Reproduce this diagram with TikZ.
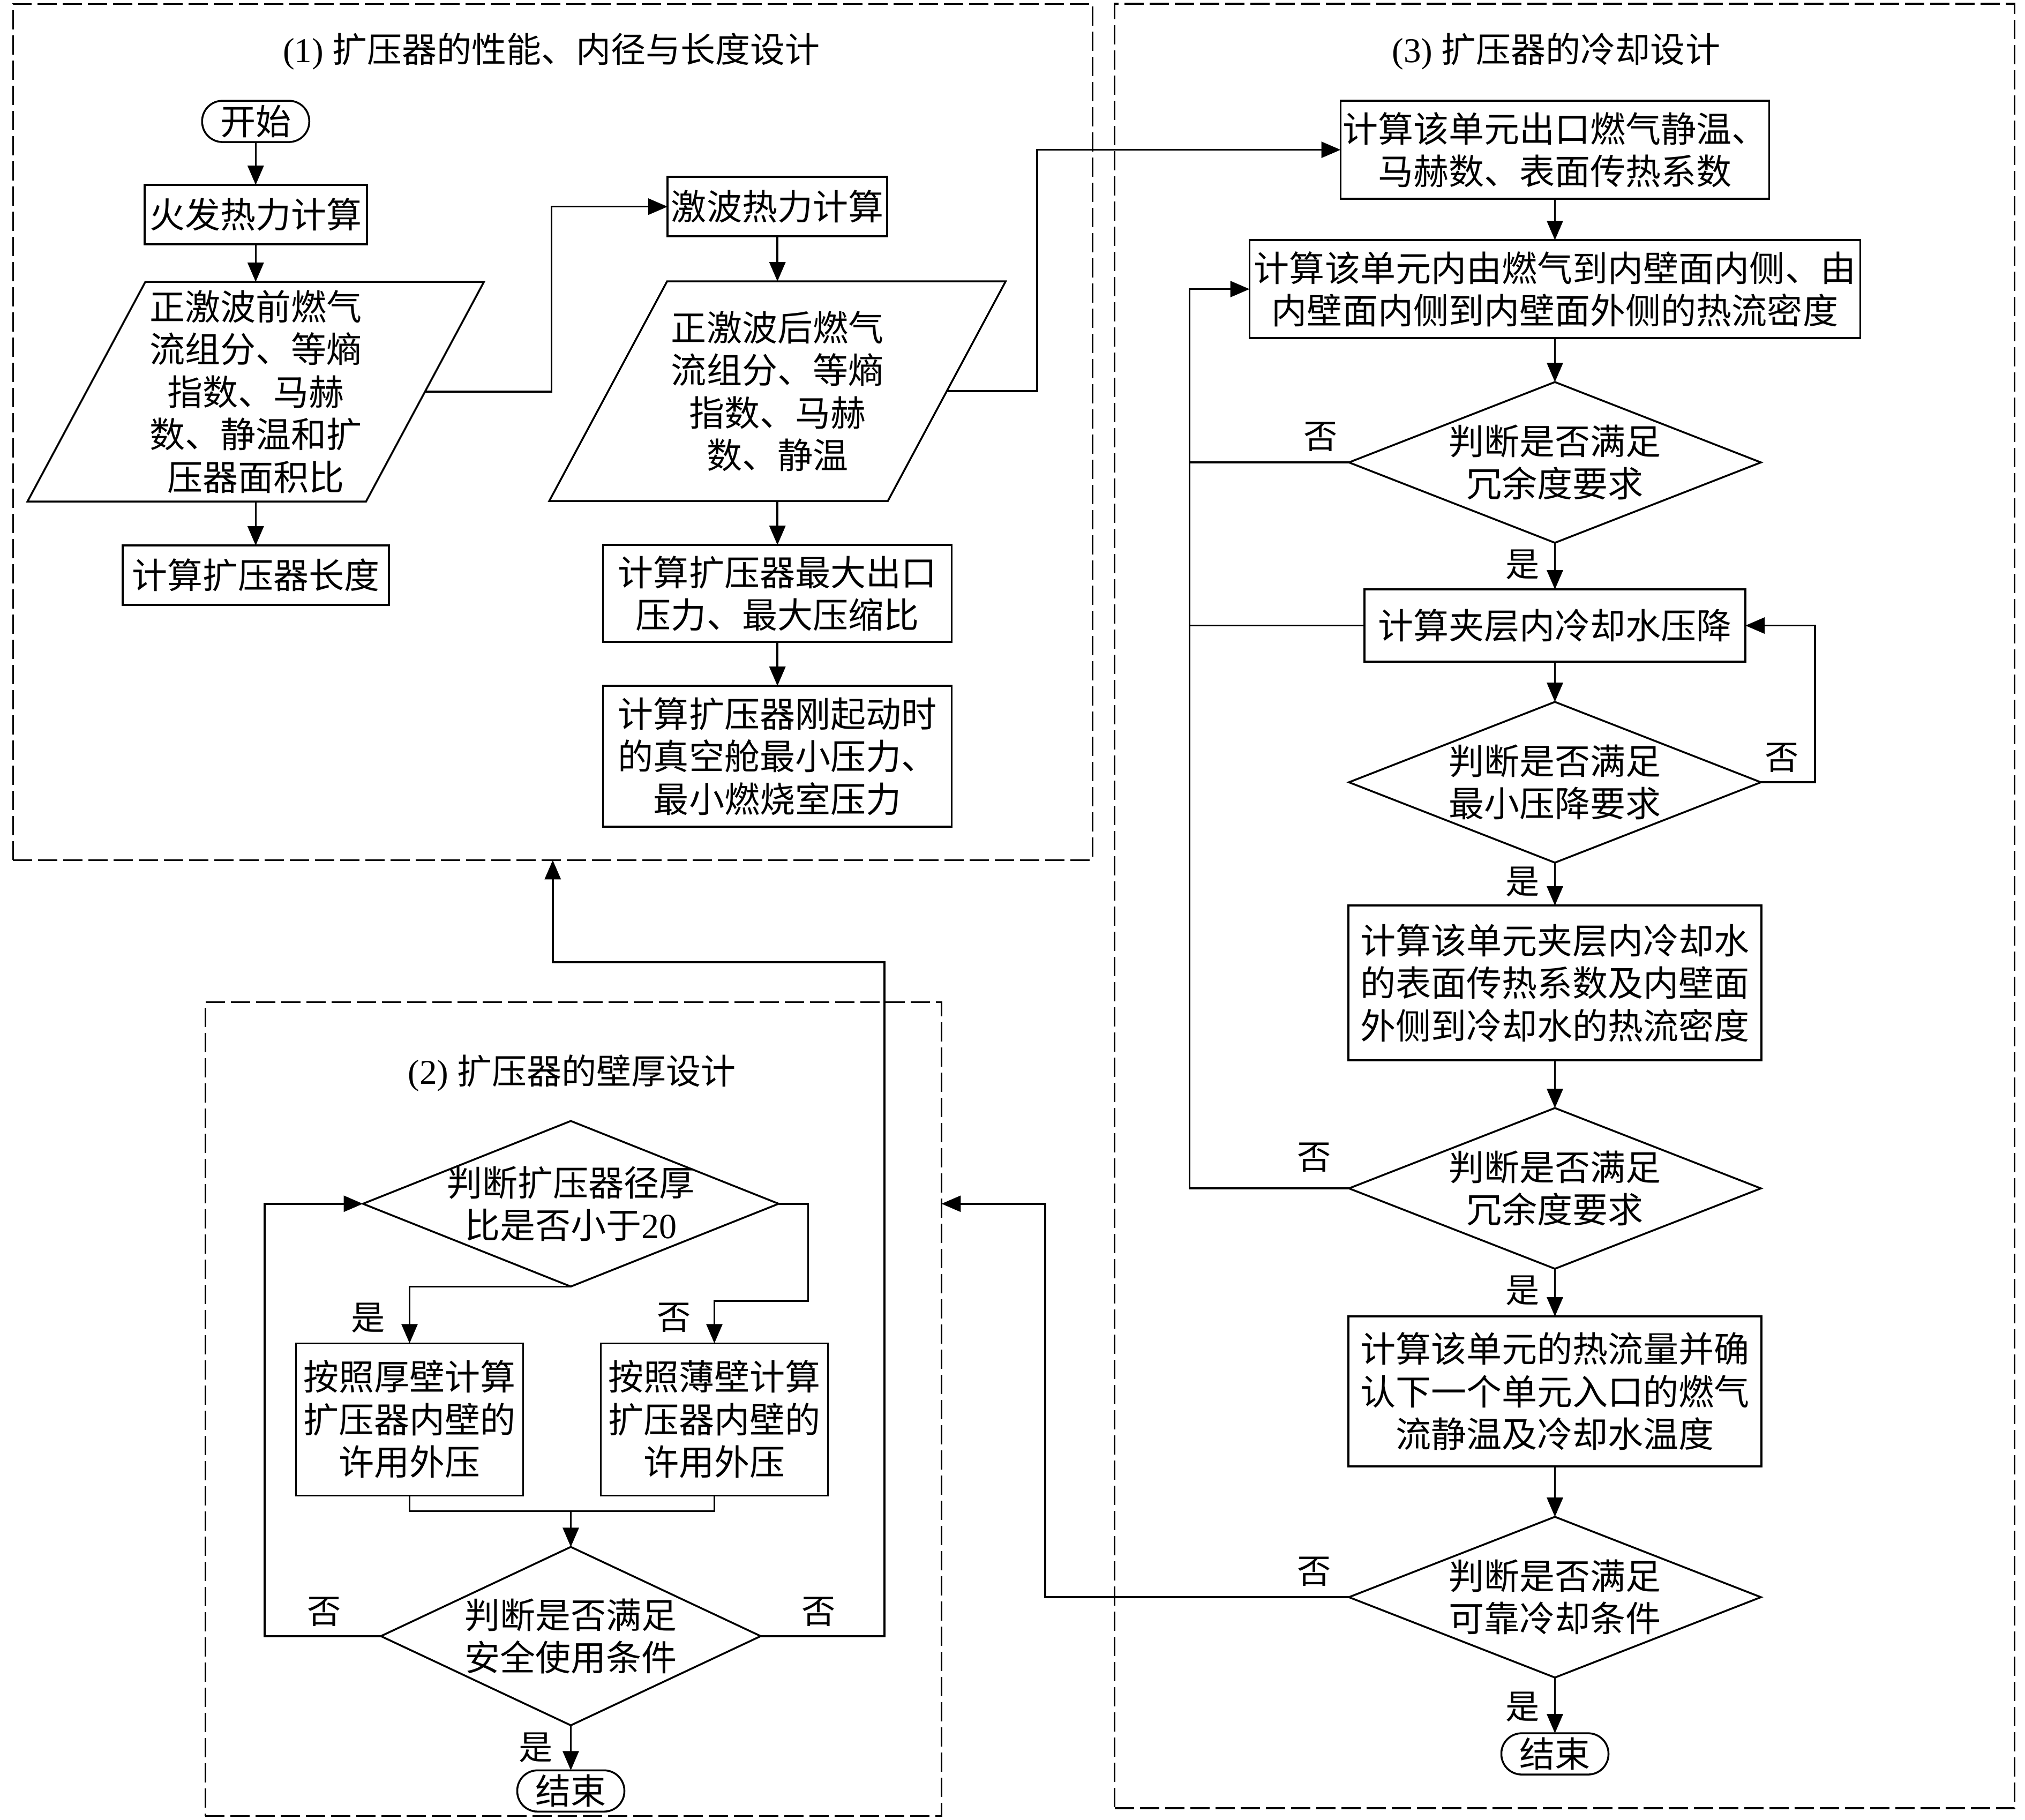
\documentclass[tikz,border=0pt]{standalone}
\usepackage{fontspec}
\setmainfont{Liberation Serif}
\newfontfamily\cjkfont{Noto Sans CJK SC}
\usetikzlibrary{shapes.geometric, arrows.meta, positioning}

\begin{document}
\begin{tikzpicture}[
    font=\cjkfont\fontsize{18.8}{22.6}\selectfont,
    line/.style={line width=1pt},
    arrow/.style={line, -{Triangle[length=0.36cm, width=0.30cm]}},
    box/.style={rectangle, draw, line width=1pt, inner sep=1pt, outer sep=0pt, align=center},
    startstop/.style={box, rounded corners=0.38cm, minimum width=2cm, minimum height=0.77cm},
    iobox/.style={rectangle, inner sep=1pt, outer sep=0pt, align=center, minimum width=6.32cm, minimum height=4.10cm},
    decision/.style={diamond, draw, line width=1pt, inner sep=0pt, outer sep=0pt, align=center},
    check/.style={decision, aspect=2.55, inner ysep=-0.05cm, minimum width=7.69cm, minimum height=3.0cm},
    frame/.style={rectangle, draw, line width=1pt, dash pattern=on 0.36cm off 0.11cm, inner sep=0pt, outer sep=0pt},
    title/.style={font=\fontsize{18.5}{22}\selectfont},
    lbl/.style={inner sep=0pt, font=\cjkfont\fontsize{18}{20}\selectfont}
]
\useasboundingbox (0,0) rectangle (37.8,-33.967);

% Frames and titles
\node[frame, minimum width=20.15cm, minimum height=15.98cm] (sec1) at (10.318,-8.064) {};
\node[frame, minimum width=13.74cm, minimum height=15.19cm] (sec2) at (10.704,-26.301) {};
\node[frame, minimum width=16.80cm, minimum height=33.68cm] (sec3) at (29.206,-16.911) {};
\node[title] (tit1) at (10.294,-0.964) {(1) {\cjkfont 扩压器的性能、内径与长度设计}};
\node[title] (tit2) at (10.679,-20.033) {(2) {\cjkfont 扩压器的壁厚设计}};
\node[title] (tit3) at (29.049,-0.964) {(3) {\cjkfont 扩压器的冷却设计}};

% (1) left column
\node[startstop] (start) at (4.773,-2.266) {开始};
\node[box, minimum width=4.15cm, minimum height=1.11cm, below=0.80cm of start] (fire) {火发热力计算};
\node[iobox, below=0.70cm of fire] (pre) {正激波前燃气\\流组分、等熵\\指数、马赫\\数、静温和扩\\压器面积比};
\node[box, minimum width=4.97cm, minimum height=1.11cm, below=0.82cm of pre] (length) {计算扩压器长度};

% (1) middle column
\node[box, minimum width=4.10cm, minimum height=1.11cm] (shock) at (14.512,-3.857) {激波热力计算};
\node[iobox, below=0.84cm of shock] (post) {正激波后燃气\\流组分、等熵\\指数、马赫\\数、静温};
\node[box, minimum width=6.51cm, minimum height=1.81cm, below=0.82cm of post] (maxp) {计算扩压器最大出口\\压力、最大压缩比};
\node[box, minimum width=6.51cm, minimum height=2.63cm, below=0.82cm of maxp] (minp) {计算扩压器刚起动时\\的真空舱最小压力、\\最小燃烧室压力};

% (3) cooling column
\node[box, minimum width=8.00cm, minimum height=1.83cm] (outlet) at (29.025,-2.796) {计算该单元出口燃气静温、\\马赫数、表面传热系数};
\node[box, minimum width=11.40cm, minimum height=1.83cm, below=0.77cm of outlet] (flux) {计算该单元内由燃气到内壁面内侧、由\\内壁面内侧到内壁面外侧的热流密度};
\node[check, below=0.82cm of flux] (redund1) {判断是否满足\\冗余度要求};
\node[box, minimum width=7.11cm, minimum height=1.35cm, below=0.87cm of redund1] (drop) {计算夹层内冷却水压降};
\node[check, below=0.75cm of drop] (mindrop) {判断是否满足\\最小压降要求};
\node[box, minimum width=7.71cm, minimum height=2.89cm, below=0.80cm of mindrop] (water) {计算该单元夹层内冷却水\\的表面传热系数及内壁面\\外侧到冷却水的热流密度};
\node[check, below=0.89cm of water] (redund2) {判断是否满足\\冗余度要求};
\node[box, minimum width=7.71cm, minimum height=2.80cm, below=0.89cm of redund2] (next) {计算该单元的热流量并确\\认下一个单元入口的燃气\\流静温及冷却水温度};
\node[check, below=0.94cm of next] (cool) {判断是否满足\\可靠冷却条件};
\node[startstop, below=1.04cm of cool] (end3) {结束};

% (2) wall thickness
\node[decision, aspect=2.51, minimum width=7.76cm, minimum height=3.09cm, inner xsep=-0.27cm] (ratio) at (10.655,-22.468) {判断扩压器径厚\\比是否小于{\rmfamily 20}};
\node[box, minimum width=4.24cm, minimum height=2.84cm, below=1.06cm of ratio, xshift=-3.01cm] (thick) {按照厚壁计算\\扩压器内壁的\\许用外压};
\node[box, minimum width=4.24cm, minimum height=2.84cm, below=1.06cm of ratio, xshift=2.68cm] (thin) {按照薄壁计算\\扩压器内壁的\\许用外压};
\node[decision, aspect=2.13, minimum width=7.09cm, minimum height=3.33cm, below=0.96cm of thick, xshift=3.01cm] (safe) {判断是否满足\\安全使用条件};
\node[startstop, below=0.84cm of safe] (end2) {结束};

% Parallelograms
\draw[line] ([xshift=1.1cm]pre.north west) -- ([xshift=1.1cm]pre.north east) -- ([xshift=-1.1cm]pre.south east) -- ([xshift=-1.1cm]pre.south west) -- cycle;
\draw[line] ([xshift=1.1cm]post.north west) -- ([xshift=1.1cm]post.north east) -- ([xshift=-1.1cm]post.south east) -- ([xshift=-1.1cm]post.south west) -- cycle;

% Arrows (1)
\draw[arrow] (start) -- (fire);
\draw[arrow] (fire) -- (pre);
\draw[arrow] (pre) -- (length);
\draw[arrow] (pre.east) -- ++(2.36,0) |- (shock.west);
\draw[arrow] (shock) -- (post);
\draw[arrow] (post) -- (maxp);
\draw[arrow] (maxp) -- (minp);
\draw[arrow] (post.east) -- ++(1.69,0) |- (outlet.west);

% Arrows (3)
\draw[arrow] (outlet) -- (flux);
\draw[arrow] (flux) -- (redund1);
\draw[arrow] (redund1) -- (drop);
\draw[arrow] (drop) -- (mindrop);
\draw[arrow] (mindrop) -- (water);
\draw[arrow] (water) -- (redund2);
\draw[arrow] (redund2) -- (next);
\draw[arrow] (next) -- (cool);
\draw[arrow] (cool) -- (end3);
\coordinate (loop) at ([xshift=-1.12cm]flux.west);
\draw[arrow] (redund2.west) -| (loop) -- (flux.west);
\draw[line] (redund1.west) -- (redund1.west -| loop);
\draw[line] (drop.west) -- (drop.west -| loop);
\draw[arrow] (mindrop.east) -- ++(1.01,0) |- (drop.east);
\draw[arrow] (cool.west) -- ++(-5.67,0) |- (sec2.east |- ratio);

% Arrows (2)
\draw[arrow] (ratio.south) -| (thick.north);
\draw[arrow] (ratio.east) -- ++(0.55,0) -- ++(0,-1.81) -| (thin.north);
\draw[line] (thick.south) -- ++(0,-0.29) coordinate (merge) -| (thin.south);
\draw[arrow] (merge -| safe.north) -- (safe.north);
\draw[arrow] (safe.west) -- ++(-2.17,0) |- (ratio.west);
\draw[arrow] (safe.east) -- ++(2.31,0) -- ++(0,12.58) -| (sec1.south);
\draw[arrow] (safe) -- (end2);

% Labels
\node[lbl] (no1) at ([xshift=-0.53cm, yshift=0.48cm]redund1.west) {否};
\node[lbl] (yes1) at ([xshift=-0.60cm, yshift=-0.41cm]redund1.south) {是};
\node[lbl] (no2) at ([xshift=0.39cm, yshift=0.46cm]mindrop.east) {否};
\node[lbl] (yes2) at ([xshift=-0.60cm, yshift=-0.36cm]mindrop.south) {是};
\node[lbl] (no3) at ([xshift=-0.65cm, yshift=0.58cm]redund2.west) {否};
\node[lbl] (yes3) at ([xshift=-0.60cm, yshift=-0.41cm]redund2.south) {是};
\node[lbl] (no4) at ([xshift=-0.65cm, yshift=0.48cm]cool.west) {否};
\node[lbl] (yes4) at ([xshift=-0.60cm, yshift=-0.55cm]cool.south) {是};
\node[lbl] (yes5) at ([xshift=-0.77cm, yshift=0.48cm]thick.north) {是};
\node[lbl] (no5) at ([xshift=-0.75cm, yshift=0.48cm]thin.north) {否};
\node[lbl] (no6) at ([xshift=-1.06cm, yshift=0.46cm]safe.west) {否};
\node[lbl] (no7) at ([xshift=1.08cm, yshift=0.46cm]safe.east) {否};
\node[lbl] (yes6) at ([xshift=-0.65cm, yshift=-0.41cm]safe.south) {是};

\end{tikzpicture}
\end{document}
